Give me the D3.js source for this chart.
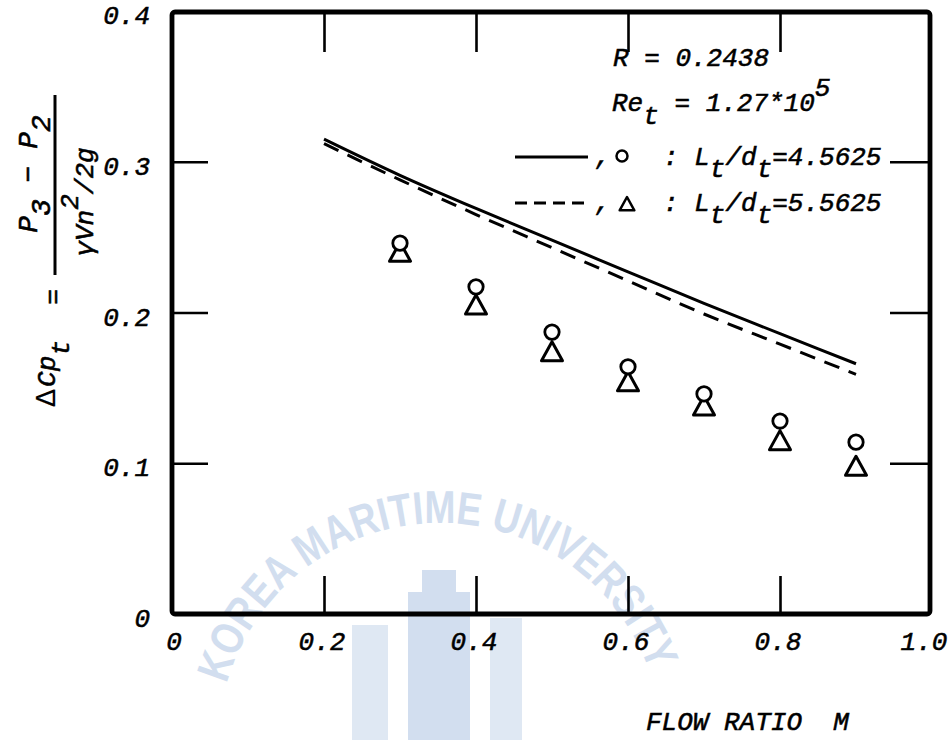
<!DOCTYPE html>
<html><head><meta charset="utf-8">
<script src="https://cdn.jsdelivr.net/npm/d3@7"></script>
<style>
body{margin:0;background:#fff;}
svg{display:block;}
text.k{font-family:"Liberation Mono","DejaVu Sans Mono",monospace;font-style:italic;fill:#000;stroke:#000;stroke-width:0.55px;}
</style></head><body>
<svg id="chart" width="951" height="740"></svg>
<script>
// ---- data ----
const xTickValues = [0, 0.2, 0.4, 0.6, 0.8, 1.0];
const xTickLabels = ["0", "0.2", "0.4", "0.6", "0.8", "1.0"];
const yTickValues = [0, 0.1, 0.2, 0.3, 0.4];
const yTickLabels = ["0", "0.1", "0.2", "0.3", "0.4"];
const innerXTicks = [0.2, 0.4, 0.6, 0.8];
const innerYTicks = [0.1, 0.2, 0.3];
const flowRatio = [0.3, 0.4, 0.5, 0.6, 0.7, 0.8, 0.9];
const circleValues   = [0.246, 0.217, 0.187, 0.164, 0.146, 0.128, 0.114];
const triangleValues = [0.240, 0.205, 0.174, 0.154, 0.138, 0.115, 0.098];
const curveX = [0.2, 0.3, 0.4, 0.5, 0.6, 0.7, 0.8, 0.9];
const solidValues  = [0.315, 0.291, 0.269, 0.248, 0.227, 0.206, 0.186, 0.166];
const dashedValues = [0.312, 0.288, 0.265, 0.243, 0.221, 0.199, 0.179, 0.159];
const watermarkText = "KOREA MARITIME UNIVERSITY";

const svg = d3.select("#chart");
const FS = 26;

// ---- scales ----
const x = d3.scaleLinear().domain([0, 1.0]).range([172, 932]);
const y = d3.scaleLinear().domain([0, 0.4]).range([614, 11]);
const L = 172, R = 930, T = 12, B = 614;

// ---- watermark (faint) ----
const wm = svg.append("g").attr("opacity", 0.75);
const wc = "#c3d4ea";
const cx = 440, cy = 745, rr = 222;
const a1 = -74 * Math.PI / 180, a2 = 74 * Math.PI / 180;
const p = d3.path();
p.arc(cx, cy, rr, a1 - Math.PI / 2, a2 - Math.PI / 2, false);
svg.append("defs").append("path").attr("id", "wmarc").attr("d", p.toString());
wm.append("text").style("font-family", "'Liberation Sans',Arial,sans-serif")
  .style("font-weight", "bold").style("font-size", "46px").style("fill", wc)
  .append("textPath").attr("href", "#wmarc").attr("textLength", 560).attr("lengthAdjust", "spacingAndGlyphs")
  .text(watermarkText);
wm.append("rect").attr("x", 408).attr("y", 592).attr("width", 62).attr("height", 150).attr("fill", wc);
wm.append("rect").attr("x", 422).attr("y", 570).attr("width", 34).attr("height", 26).attr("fill", wc);
wm.append("rect").attr("x", 352).attr("y", 625).attr("width", 36).attr("height", 120).attr("fill", wc).attr("opacity", 0.7);
wm.append("rect").attr("x", 490).attr("y", 618).attr("width", 32).attr("height", 125).attr("fill", wc).attr("opacity", 0.7);

// ---- frame ----
svg.append("rect").attr("x", L).attr("y", T).attr("width", R - L).attr("height", B - T)
  .attr("rx", 3).attr("fill", "none").attr("stroke", "#000").attr("stroke-width", 4.8);

// ---- inward ticks ----
function tickAxis(axis, tx, ty) {
  const g = svg.append("g").attr("transform", `translate(${tx},${ty})`).call(axis);
  g.select(".domain").remove();
  g.selectAll(".tick line").attr("stroke", "#000").attr("stroke-width", 2.6);
  g.selectAll(".tick text").remove();
}
tickAxis(d3.axisBottom(x).tickValues(innerXTicks).tickSize(-38), 0, B);
tickAxis(d3.axisTop(x).tickValues(innerXTicks).tickSize(-40), 0, T);
tickAxis(d3.axisLeft(y).tickValues(innerYTicks).tickSize(-36), L, 0);
tickAxis(d3.axisRight(y).tickValues(innerYTicks).tickSize(-40), R, 0);

// ---- tick labels (positioned by the scales) ----
svg.append("g").selectAll("text").data(xTickValues).join("text").attr("class", "k")
  .attr("x", (d, i) => x(d) + (i === 0 ? 2 : (i === xTickValues.length - 1 ? -8 : -2)))
  .attr("y", B + 36).attr("text-anchor", "middle").style("font-size", FS + "px")
  .text((d, i) => xTickLabels[i]);
svg.append("g").selectAll("text").data(yTickValues).join("text").attr("class", "k")
  .attr("x", L - 22).attr("y", d => y(d) + 13).attr("text-anchor", "end").style("font-size", FS + "px")
  .text((d, i) => yTickLabels[i]);

// ---- curves ----
const line = d3.line().x(d => x(d[0])).y(d => y(d[1])).curve(d3.curveMonotoneX);
svg.append("path").datum(curveX.map((v, i) => [v, solidValues[i]]))
  .attr("d", line).attr("fill", "none").attr("stroke", "#000").attr("stroke-width", 3);
svg.append("path").datum(curveX.map((v, i) => [v, dashedValues[i]]))
  .attr("d", line).attr("fill", "none").attr("stroke", "#000").attr("stroke-width", 3)
  .attr("stroke-dasharray", "16,10");

// ---- markers ----
const triPath = s => `M0,${-s}L${s * 1.05},${s * 0.9}L${-s * 1.05},${s * 0.9}Z`;
svg.append("g").selectAll("path").data(flowRatio).join("path")
  .attr("d", triPath(10)).attr("transform", (d, i) => `translate(${x(d)},${y(triangleValues[i])})`)
  .attr("fill", "#fff").attr("stroke", "#000").attr("stroke-width", 3).attr("stroke-linejoin", "round");
svg.append("g").selectAll("circle").data(flowRatio).join("circle")
  .attr("cx", d => x(d)).attr("cy", (d, i) => y(circleValues[i])).attr("r", 7.2)
  .attr("fill", "#fff").attr("stroke", "#000").attr("stroke-width", 2.8);

// ---- legend / annotation ----
const lg = svg.append("g").style("font-size", FS + "px");
lg.append("text").attr("class", "k").attr("x", 613).attr("y", 66).text("R = 0.2438");
const t2 = lg.append("text").attr("class", "k").attr("x", 612).attr("y", 111);
t2.append("tspan").text("Re");
t2.append("tspan").attr("dy", 13).text("t");
t2.append("tspan").attr("dy", -13).text(" = 1.27*10");
t2.append("tspan").attr("dy", -15).text("5");

lg.append("line").attr("x1", 515).attr("x2", 588).attr("y1", 157).attr("y2", 157)
  .attr("stroke", "#000").attr("stroke-width", 3);
lg.append("text").attr("class", "k").attr("x", 595).attr("y", 164).text(",");
lg.append("circle").attr("cx", 622).attr("cy", 156).attr("r", 5.5)
  .attr("fill", "#fff").attr("stroke", "#000").attr("stroke-width", 2.5);
function ldText(yy, val) {
  const t = lg.append("text").attr("class", "k").attr("x", 663).attr("y", yy);
  t.append("tspan").text(": L");
  t.append("tspan").attr("dy", 12).text("t");
  t.append("tspan").attr("dy", -12).text("/d");
  t.append("tspan").attr("dy", 12).text("t");
  t.append("tspan").attr("dy", -12).text("=" + val);
}
ldText(165, "4.5625");
lg.append("line").attr("x1", 515).attr("x2", 588).attr("y1", 203).attr("y2", 203)
  .attr("stroke", "#000").attr("stroke-width", 3).attr("stroke-dasharray", "12,7");
lg.append("text").attr("class", "k").attr("x", 595).attr("y", 210).text(",");
lg.append("path").attr("d", triPath(7)).attr("transform", "translate(627,204)")
  .attr("fill", "#fff").attr("stroke", "#000").attr("stroke-width", 2.5).attr("stroke-linejoin", "round");
ldText(211, "5.5625");

// ---- x-axis title ----
svg.append("text").attr("class", "k").attr("x", 646).attr("y", 730).style("font-size", FS + "px")
  .attr("xml:space", "preserve").text("FLOW RATIO  M");

// ---- y-axis title (rotated) ----
const yg = svg.append("g").attr("transform", "rotate(-90)");
const yt1 = yg.append("text").attr("class", "k").attr("x", -407).attr("y", 55).style("font-size", FS + "px");
yt1.append("tspan").style("font-style", "normal").style("font-family", "'Liberation Sans',Arial,sans-serif")
  .style("font-size", "27px").style("stroke-width", "0.2px").text("Δ");
yt1.append("tspan").attr("dx", 2).text("Cp");
yt1.append("tspan").attr("dy", 14).text("t");
yg.append("text").attr("class", "k").attr("x", -297).attr("y", 61).attr("text-anchor", "middle").style("font-size", FS + "px").text("=");
yg.append("line").attr("x1", -275).attr("x2", -95).attr("y1", 55).attr("y2", 55)
  .attr("stroke", "#000").attr("stroke-width", 3);
const num = yg.append("text").attr("class", "k").attr("x", -174).attr("y", 37).attr("text-anchor", "middle")
  .style("font-size", "28px").attr("xml:space", "preserve");
num.append("tspan").text("P");
num.append("tspan").attr("dy", 13).text("3");
num.append("tspan").attr("dy", -13).text(" − P");
num.append("tspan").attr("dy", 13).text("2");
const den = yg.append("text").attr("class", "k").attr("x", -202).attr("y", 93).attr("text-anchor", "middle")
  .style("font-size", FS + "px");
den.append("tspan").text("γVn");
den.append("tspan").attr("dy", -15).text("2");
den.append("tspan").attr("dy", 15).text("/2g");
</script>
</body></html>
